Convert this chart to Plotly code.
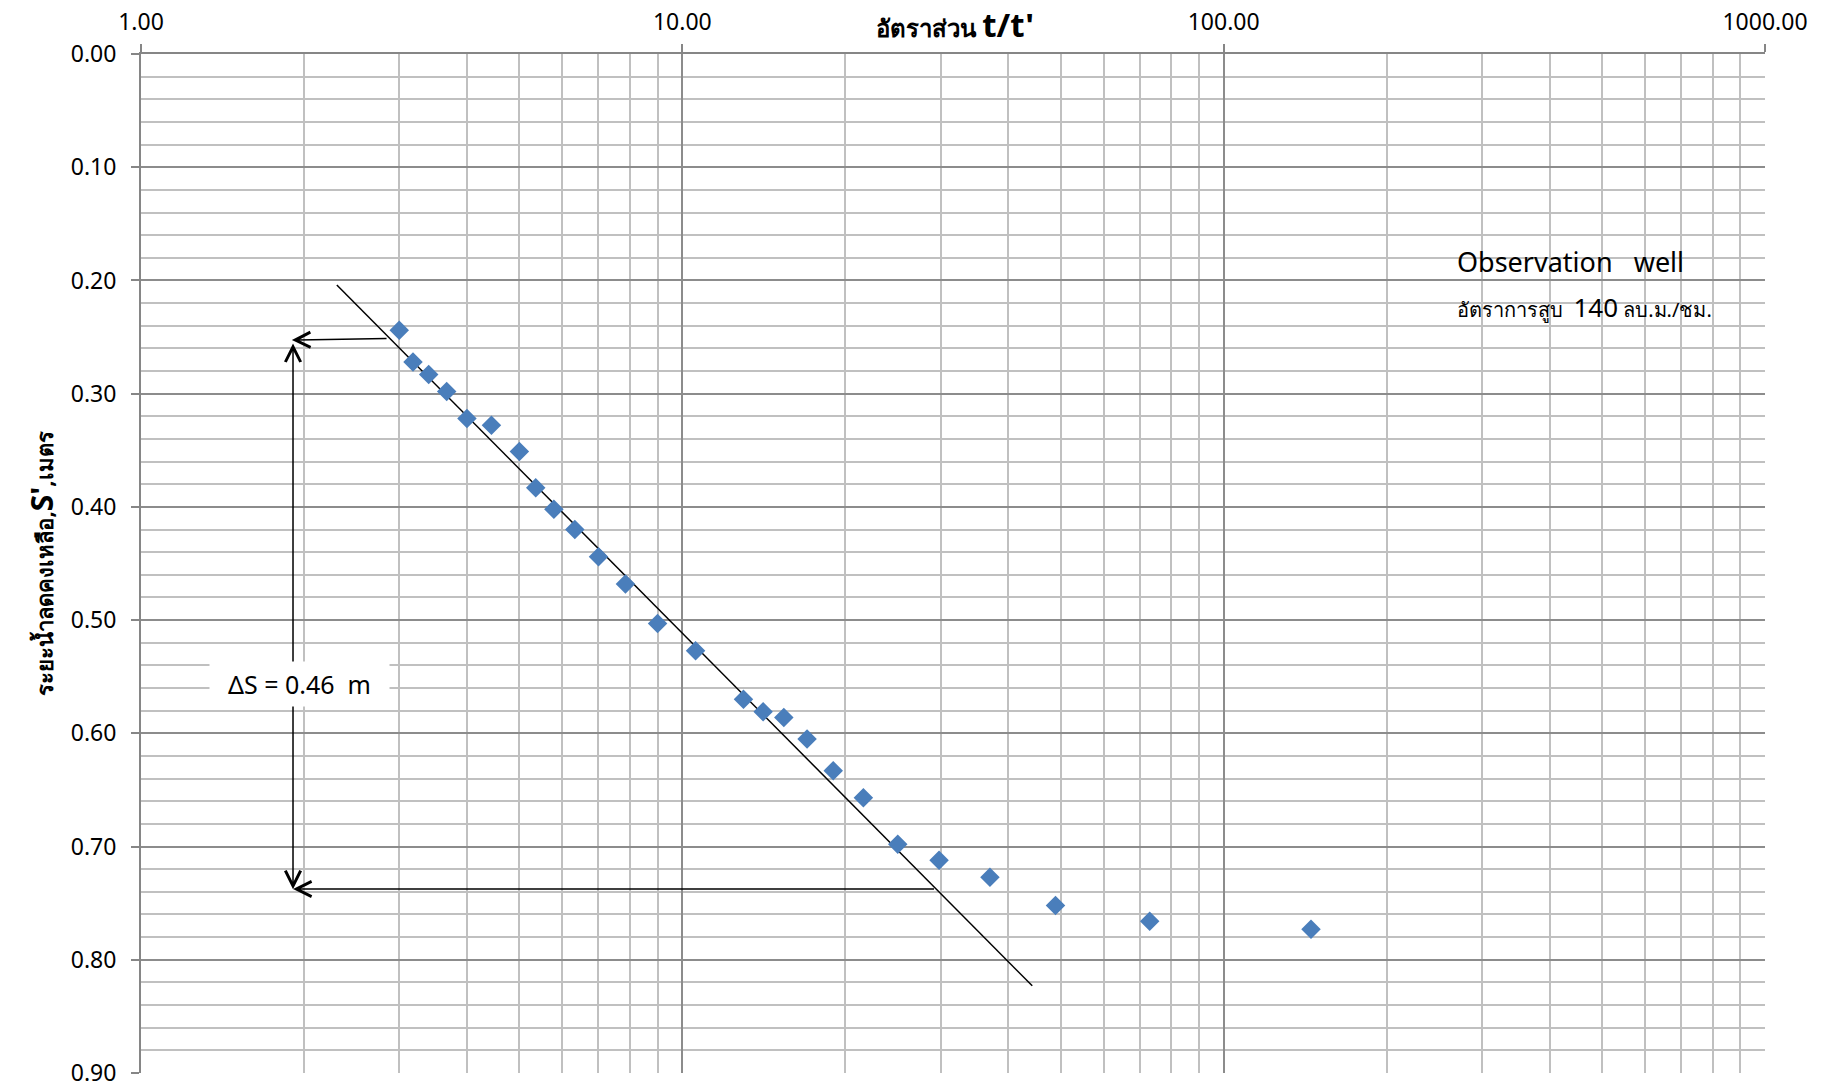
import numpy as np
import plotly.graph_objects as go

# ---- data ----
tt_ratio = [3.00, 3.18, 3.40, 3.67, 4.00, 4.44, 5.00, 5.36, 5.79, 6.33, 7.00, 7.85, 9.00,
            10.58, 12.97, 14.1, 15.4, 17.0, 19.0, 21.6, 25.0, 29.8, 37.0, 48.9, 73.0, 145.0]
s_resid = [0.244, 0.272, 0.283, 0.298, 0.322, 0.328, 0.351, 0.383, 0.402, 0.420, 0.444, 0.468, 0.503,
           0.527, 0.570, 0.581, 0.586, 0.605, 0.633, 0.657, 0.698, 0.712, 0.727, 0.752, 0.766, 0.773]

fit_x = [2.30, 44.3]
fit_y = [0.204, 0.823]

x_major = [1, 10, 100, 1000]
x_major_text = ["1.00", "10.00", "100.00", "1000.00"]
x_minor = [m * d for d in (1, 10, 100) for m in range(2, 10)]
y_major = [round(0.1 * i, 2) for i in range(10)]
y_major_text = [f"{v:.2f}" for v in y_major]
y_minor = [round(0.02 * i, 2) for i in range(46) if i % 5 != 0]

# delta-S construction (t/t', s')
ds_top = (2.86, 0.2513, 1.90, 0.2527)      # tail x, tail y, head x, head y
ds_vert = (1.909, 0.2543, 1.909, 0.7377)
ds_bot = (29.35, 0.7375, 1.909, 0.7375)
ds_label_pos = (1.96, 0.5565)
ds_label = "ΔS = 0.46  m"

FONT = "Noto Sans, DejaVu Sans, sans-serif"
BLUE = "#4A7EBB"

W, H = 1831, 1089
L, R, T, B = 141, 66, 54, 16
pw, ph = W - L - R, H - T - B

fig = go.Figure()
fig.add_trace(go.Scatter(x=fit_x, y=fit_y, mode="lines",
                         line=dict(color="black", width=1.5), showlegend=False, hoverinfo="skip"))
fig.add_trace(go.Scatter(x=tt_ratio, y=s_resid, mode="markers",
                         marker=dict(symbol="diamond", size=15, color=BLUE, line=dict(width=0)),
                         showlegend=False))

lg = np.log10
ann = []
def arrow(seg, side):
    tx, ty, hx, hy = seg
    return dict(x=lg(hx), y=hy, ax=lg(tx), ay=ty, xref="x", yref="y", axref="x", ayref="y",
                text="", showarrow=True, arrowhead=5, arrowside=side, arrowsize=2.0,
                arrowwidth=1.5, arrowcolor="black", standoff=0, startstandoff=0)
ann.append(arrow(ds_top, "end"))
ann.append(arrow(ds_vert, "end+start"))
ann.append(arrow(ds_bot, "end"))
ann.append(dict(x=lg(ds_label_pos[0]), y=ds_label_pos[1], xref="x", yref="y",
                text="&nbsp;&nbsp;" + ds_label.replace("  ", "&nbsp;&nbsp;") + "&nbsp;&nbsp;",
                showarrow=False, bgcolor="white", borderpad=5,
                font=dict(family=FONT, size=25, color="black")))
# x-axis title (top)
ann.append(dict(x=(955 - L) / pw, y=(H - 24 - B) / ph, xref="paper", yref="paper", showarrow=False,
                text="<b>อัตราส่วน <span style='font-size:33px'>t/t'</span></b>",
                font=dict(family=FONT, size=24, color="black"), xanchor="center", yanchor="middle"))
# y-axis title (left, rotated)
ann.append(dict(x=(41 - L) / pw, y=0.5, xref="paper", yref="paper", showarrow=False, textangle=-90,
                text="<b>ระยะน้ำลดคงเหลือ,<span style='font-size:30px'>S'</span>,เมตร</b>",
                font=dict(family=FONT, size=22, color="black"), xanchor="center", yanchor="middle"))
# well info
ann.append(dict(x=(1454 - L) / 541.1, y=0.1835, xref="x", yref="y", showarrow=False,
                text="Observation&nbsp;&nbsp; well", xanchor="left", yanchor="middle",
                font=dict(family=FONT, size=27, color="black")))
ann.append(dict(x=(1454 - L) / 541.1, y=0.2235, xref="x", yref="y", showarrow=False,
                text="อัตราการสูบ&nbsp; <span style='font-size:26px'>140</span> ลบ.ม./ชม.",
                xanchor="left", yanchor="middle",
                font=dict(family=FONT, size=20, color="black")))

fig.update_layout(
    width=W, height=H, margin=dict(l=L, r=R, t=T, b=B, pad=0),
    paper_bgcolor="white", plot_bgcolor="white",
    font=dict(family=FONT, size=23, color="black"),
    annotations=ann,
    xaxis=dict(type="log", range=[0, 3], side="top", tickmode="array", automargin=False,
               tickvals=x_major, ticktext=x_major_text, ticks="outside", ticklen=8,
               tickcolor="#868686", tickwidth=2, ticklabelstandoff=5,
               showline=True, linecolor="#868686", linewidth=2,
               showgrid=True, gridcolor="#8c8c8c", gridwidth=1.6, zeroline=False,
               minor=dict(tickmode="array", tickvals=x_minor, showgrid=True,
                          gridcolor="#c0c0c0", gridwidth=1.5, ticks=""),
               tickfont=dict(family=FONT, size=23)),
    yaxis=dict(range=[0.9, 0], tickmode="array", tickvals=y_major, ticktext=y_major_text,
               automargin=False,
               ticks="outside", ticklen=8, tickcolor="#868686", tickwidth=2, ticklabelstandoff=10,
               showline=True, linecolor="#868686", linewidth=2,
               showgrid=True, gridcolor="#8c8c8c", gridwidth=1.6, zeroline=False,
               minor=dict(tickmode="array", tickvals=y_minor, showgrid=True,
                          gridcolor="#c0c0c0", gridwidth=1.5, ticks=""),
               tickfont=dict(family=FONT, size=23)),
)

fig.write_html("out.html")
